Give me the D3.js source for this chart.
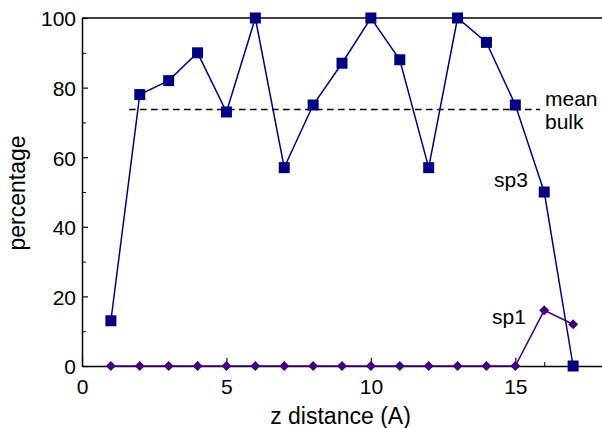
<!DOCTYPE html>
<html>
<head>
<meta charset="utf-8">
<script src="https://cdn.jsdelivr.net/npm/d3@7"></script>
<style>
  html, body { margin: 0; padding: 0; background: #fff; }
  svg { display: block; }
  text { font-family: "Liberation Sans", Arial, Helvetica, sans-serif; fill: #000; }
</style>
</head>
<body>
<svg id="chart" width="602" height="428"></svg>
<script>
// ---- data ----
const zDistance = [1, 2, 3, 4, 5, 6, 7, 8, 9, 10, 11, 12, 13, 14, 15, 16, 17];
const sp3Values = [13, 78, 82, 90, 73, 100, 57, 75, 87, 100, 88, 57, 100, 93, 75, 50, 0];
const sp1Values = [0, 0, 0, 0, 0, 0, 0, 0, 0, 0, 0, 0, 0, 0, 0, 16, 12];
const meanBulkValue = 73.7;
const meanBulkRange = [1.63, 15.85];
const xMajorTicks = [0, 5, 10, 15];
const xMinorTicks = [1, 2, 3, 4, 6, 7, 8, 9, 11, 12, 13, 14, 16, 17];
const yMajorTicks = [0, 20, 40, 60, 80, 100];
const yMinorTicks = [10, 30, 50, 70, 90];

const svg = d3.select("#chart");
const plotLeft = 82, plotRight = 602, plotTop = 18, plotBottom = 366;

const x = d3.scaleLinear().domain([0, 18]).range([plotLeft, plotRight]);
const y = d3.scaleLinear().domain([0, 100]).range([plotBottom, plotTop]);

// minor ticks
svg.append("g").attr("transform", `translate(0,${plotBottom})`)
  .call(d3.axisBottom(x).tickValues(xMinorTicks).tickSize(-4).tickSizeOuter(0).tickFormat(""))
  .call(g => g.select(".domain").remove())
  .call(g => g.selectAll("line").attr("stroke", "#000").attr("stroke-width", 1));
svg.append("g").attr("transform", `translate(${plotLeft},0)`)
  .call(d3.axisLeft(y).tickValues(yMinorTicks).tickSize(-4).tickSizeOuter(0).tickFormat(""))
  .call(g => g.select(".domain").remove())
  .call(g => g.selectAll("line").attr("stroke", "#000").attr("stroke-width", 1));

// major axes
const xAxis = svg.append("g").attr("transform", `translate(0,${plotBottom})`)
  .call(d3.axisBottom(x).tickValues(xMajorTicks).tickSize(-8).tickSizeOuter(0).tickPadding(13));
xAxis.selectAll("text").attr("font-size", 21).style("font-family", "'Liberation Sans', Arial, sans-serif");
xAxis.select(".domain").attr("stroke-width", 1.5);
xAxis.selectAll("line").attr("stroke-width", 1.2);

const yAxis = svg.append("g").attr("transform", `translate(${plotLeft},0)`)
  .call(d3.axisLeft(y).tickValues(yMajorTicks).tickSize(-6).tickSizeOuter(0).tickPadding(6));
yAxis.selectAll("text").attr("font-size", 21).attr("dy", "0.38em").style("font-family", "'Liberation Sans', Arial, sans-serif");
yAxis.select(".domain").attr("stroke-width", 1.5);
yAxis.selectAll("line").attr("stroke-width", 1.2);

// top border
svg.append("line")
  .attr("x1", x(0)).attr("x2", x(18)).attr("y1", y(100)).attr("y2", y(100))
  .attr("stroke", "#000").attr("stroke-width", 1.5);

// mean bulk dashed line
svg.append("line")
  .attr("x1", x(meanBulkRange[0])).attr("x2", x(meanBulkRange[1]))
  .attr("y1", y(meanBulkValue)).attr("y2", y(meanBulkValue))
  .attr("stroke", "#000").attr("stroke-width", 1.3).attr("stroke-dasharray", "6.5,4.5");

// series
const sp3 = zDistance.map((d, i) => [d, sp3Values[i]]);
const sp1 = zDistance.map((d, i) => [d, sp1Values[i]]);
const line = d3.line().x(d => x(d[0])).y(d => y(d[1]));

const sp3Color = "#000080";
const sp1Color = "#42007f";

svg.append("path").datum(sp3).attr("d", line)
  .attr("fill", "none").attr("stroke", sp3Color).attr("stroke-width", 1.5);
svg.append("path").datum(sp1).attr("d", line)
  .attr("fill", "none").attr("stroke", sp1Color).attr("stroke-width", 1.5);

const sq = 11;
svg.append("g").selectAll("rect").data(sp3).join("rect")
  .attr("x", d => x(d[0]) - sq / 2).attr("y", d => y(d[1]) - sq / 2)
  .attr("width", sq).attr("height", sq).attr("fill", sp3Color);

const diamond = d3.symbol().type(d3.symbolSquare).size(50);
svg.append("g").selectAll("path").data(sp1).join("path")
  .attr("d", diamond)
  .attr("transform", d => `translate(${x(d[0])},${y(d[1])}) rotate(45)`)
  .attr("fill", sp1Color);

// annotations
svg.append("text").attr("x", 545).attr("y", 106).attr("font-size", 21).text("mean");
svg.append("text").attr("x", 545).attr("y", 129).attr("font-size", 21).text("bulk");
svg.append("text").attr("x", 494).attr("y", 187).attr("font-size", 21).text("sp3");
svg.append("text").attr("x", 492).attr("y", 324).attr("font-size", 21).text("sp1");

// axis titles
svg.append("text").attr("x", 340.5).attr("y", 424).attr("text-anchor", "middle")
  .attr("font-size", 23).text("z distance (A)");
svg.append("text").attr("transform", "translate(25,193) rotate(-90)")
  .attr("text-anchor", "middle").attr("font-size", 23).text("percentage");
</script>
</body>
</html>
